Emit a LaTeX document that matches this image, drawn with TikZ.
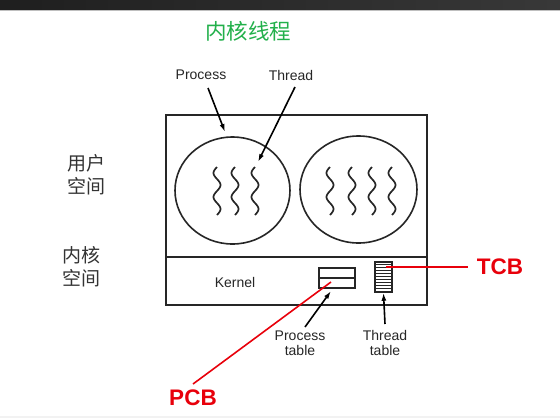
\documentclass[tikz,border=0pt]{standalone}
\usepackage{fontspec}
\setmainfont{Liberation Sans}
\newfontfamily\cjk{Noto Sans CJK SC}
\usetikzlibrary{arrows.meta,shapes.geometric,calc}
\definecolor{titlegreen}{HTML}{22B04B}
\definecolor{pcbred}{HTML}{E8000B}
\tikzset{
  box/.style={draw=black!85, line width=1.5pt},
  blob/.style={draw=black!85, line width=1.6pt, ellipse, inner sep=0pt},
  lbl/.style={font=\fontsize{14}{14}\selectfont, text=black!85, inner sep=0pt, align=center},
  cn/.style={font=\cjk\fontsize{19}{23}\selectfont, text=black!80, inner sep=0pt, align=left},
  ptr/.style={line width=1.6pt, -{Latex[length=8pt,width=5pt]}},
  redline/.style={draw=pcbred, line width=1.6pt},
  redlbl/.style={font=\bfseries\fontsize{22.5}{22.5}\selectfont, text=pcbred, inner sep=0pt},
  squig/.style={line width=1.7pt, black!85}
}
\begin{document}
\begin{tikzpicture}[x=1pt,y=-1pt]
\useasboundingbox (0,0) rectangle (560,418);
\fill[white] (0,0) rectangle (560,418);
\shade[left color=black!88, right color=black!78] (0,0) rectangle (560,9.5);
\fill[black!25] (0,9.5) rectangle (560,10.5);
\fill[black!5] (0,416) rectangle (560,418);
% title
\node[font=\cjk\fontsize{21.5}{21.5}\selectfont, text=titlegreen, inner sep=0pt] (title) at (248,31) {内核线程};
% side labels
\node[cn] (user) at (86,175) {用户\\空间};
\node[cn] (kspace) at (81,267) {内核\\空间};
% outer box
\node[box, rectangle, minimum width=261, minimum height=142, anchor=north west, inner sep=0pt] (userbox) at (165,114) {};
\node[box, rectangle, minimum width=261, minimum height=48, anchor=north west, inner sep=0pt] (kernbox) at (165,256) {};
% processes
\node[blob, minimum width=115, minimum height=107] (p1) at (232.5,190.5) {};
\node[blob, minimum width=117, minimum height=107] (p2) at (358.5,189.5) {};
% threads
\foreach \cx in {217,235,255,330,352,372,392}{
  \draw[squig] plot[smooth, domain=0:48, samples=49] ({\cx-3.5*sin(15*\x)},{167+\x});
}
\coordinate (thr) at (258,162);
\coordinate (ptop) at (225,132);
% labels
\node[lbl] (proc) at (201,75) {Process};
\node[lbl] (thread) at (291,75) {Thread};
\draw[ptr] (208,88) -- (ptop);
\draw[ptr] (295,87) -- (thr);
\node[lbl] (kernel) at (235,282) {Kernel};
% process table
\node[draw=black!85, line width=1.5pt, rectangle, minimum width=36, minimum height=20, inner sep=0pt] (ptab) at (337,278) {};
\draw[black!85, line width=1.3pt] (ptab.west) -- (ptab.east);
% thread table
\node[draw=black!85, line width=1.5pt, rectangle, minimum width=17, minimum height=30, inner sep=0pt] (ttab) at (383.5,277) {};
\foreach \i in {1,...,9}{
  \draw[black!85, line width=1pt] ($(ttab.north west)+(0,3*\i)$) -- ($(ttab.north east)+(0,3*\i)$);
}
\node[lbl] (ptlbl) at (300,343) {Process\\[1pt]table};
\node[lbl] (ttlbl) at (385,343) {Thread\\[1pt]table};
\draw[ptr] (305,327) -- (331,291);
\draw[ptr] (385,324) -- (ttab.south);
% red
\node[redlbl] (tcb) at (500,267) {TCB};
\node[redlbl] (pcb) at (193,398) {PCB};
\coordinate (tcbend) at (386,267);
\coordinate (pcbend) at (331,282);
\draw[redline] (tcbend) -- ($(tcb.west)+(-9,0)$);
\draw[redline] (pcbend) -- (193,384);
\end{tikzpicture}
\end{document}
